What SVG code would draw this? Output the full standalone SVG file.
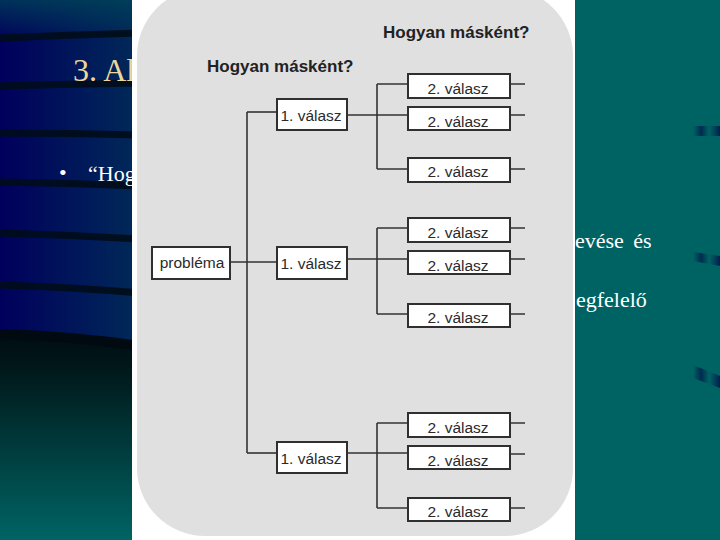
<svg xmlns="http://www.w3.org/2000/svg" width="720" height="540" viewBox="0 0 720 540">
<defs>
<linearGradient id="navy" x1="0" y1="0" x2="1" y2="0">
<stop offset="0" stop-color="#00005c"/>
<stop offset="1" stop-color="#002a58"/>
</linearGradient>
<linearGradient id="topfade" x1="0" y1="0" x2="0" y2="1">
<stop offset="0" stop-color="#004858" stop-opacity="0.7"/>
<stop offset="1" stop-color="#004858" stop-opacity="0"/>
</linearGradient>
<linearGradient id="lower" x1="0" y1="0" x2="0" y2="1">
<stop offset="0" stop-color="#000c12"/>
<stop offset="0.2" stop-color="#001a1c"/>
<stop offset="1" stop-color="#006464"/>
</linearGradient>
<linearGradient id="dash" x1="0" y1="0" x2="1" y2="0">
<stop offset="0" stop-color="#006363"/>
<stop offset="0.3" stop-color="#002a50"/>
<stop offset="0.6" stop-color="#006363"/>
<stop offset="1" stop-color="#002050"/>
</linearGradient>
<style>
.stripe{fill:none;stroke:#000c18;stroke-width:7;stroke-opacity:0.9}
.bg{font-family:"Liberation Serif","Times New Roman",serif}
.box{fill:#ffffff;stroke:#303030;stroke-width:2}
.lbl{font-family:"Liberation Sans",Arial,sans-serif;font-size:15.5px;fill:#2a2a2a;text-anchor:middle}
.ttl{font-family:"Liberation Sans",Arial,sans-serif;font-size:17px;font-weight:bold;fill:#222222}
.ln{fill:none;stroke:#333333;stroke-width:1.6}
</style>
</defs>
<!-- slide background -->
<rect x="0" y="0" width="720" height="540" fill="#006363"/>
<rect x="0" y="0" width="140" height="340" fill="url(#navy)"/>
<rect x="0" y="0" width="140" height="40" fill="url(#topfade)"/>
<path d="M0,332 Q70,334 140,345 L140,540 L0,540 Z" fill="url(#lower)"/>
<path class="stripe" d="M0,38 Q70,35 140,33"/>
<path class="stripe" d="M0,86 Q70,84 140,83"/>
<path class="stripe" d="M0,133 Q70,133 140,135"/>
<path class="stripe" d="M0,182 Q70,183 140,186"/>
<path class="stripe" d="M0,233 Q70,235 140,239"/>
<path class="stripe" d="M0,285 Q70,287 140,293"/>
<path d="M0,334 Q70,336 140,346" fill="none" stroke="#000a10" stroke-width="10"/>
<polygon points="693,126 720,126 720,136 693,136" fill="url(#dash)"/>
<polygon points="693,252 720,256 720,266 693,261" fill="url(#dash)"/>
<polygon points="693,365 720,376 720,388 693,378" fill="url(#dash)"/>
<text class="bg" x="73" y="81" font-size="32" fill="#ecd79c">3. Al</text>
<text class="bg" x="59" y="180" font-size="22" fill="#ffffff">•</text>
<text class="bg" x="88" y="181" font-size="22" fill="#ffffff">“Hog</text>
<text class="bg" x="575" y="248" font-size="22" fill="#ffffff" word-spacing="4">evése és</text>
<text class="bg" x="576" y="307" font-size="22" fill="#ffffff">egfelelő</text>
<!-- picture panel -->
<rect x="132" y="0" width="443" height="540" fill="#ffffff"/>
<rect x="137" y="-12" width="436" height="548" rx="68" ry="68" fill="#e0e0e0"/>
<text class="ttl" x="383" y="38">Hogyan másként?</text>
<text class="ttl" x="207" y="72">Hogyan másként?</text>
<g id="connectors">
<path class="ln" d="M230,262 H277"/>
<path class="ln" d="M247,112 V453"/>
<path class="ln" d="M247,112 H277"/>
<path class="ln" d="M247,453 H277"/>
<path class="ln" d="M347,115 H408 M377,84 V169 M377,84 H408 M377,169 H408 M510,84 H525 M510,115 H525 M510,169 H525"/>
<path class="ln" d="M347,259 H408 M377,228 V314 M377,228 H408 M377,314 H408 M510,228 H525 M510,259 H525 M510,314 H525"/>
<path class="ln" d="M347,453 H408 M377,423 V508 M377,423 H408 M377,508 H408 M510,423 H525 M510,454 H525 M510,508 H525"/>
</g>
<g id="problema"><rect class="box" x="152" y="247" width="78" height="32"/><text class="lbl" x="192" y="268">probléma</text></g>
<g id="v1a"><rect class="box" x="277" y="99" width="70" height="31"/><text class="lbl" x="311" y="121">1. válasz</text></g>
<g id="v1b"><rect class="box" x="277" y="247" width="70" height="32"/><text class="lbl" x="311" y="269">1. válasz</text></g>
<g id="v1c"><rect class="box" x="277" y="442" width="70" height="31"/><text class="lbl" x="311" y="464">1. válasz</text></g>
<g id="v2a1"><rect class="box" x="408" y="74" width="102" height="24"/><text class="lbl" x="458" y="94">2. válasz</text></g>
<g id="v2a2"><rect class="box" x="408" y="107" width="102" height="23"/><text class="lbl" x="458" y="126.5">2. válasz</text></g>
<g id="v2a3"><rect class="box" x="408" y="158" width="102" height="24"/><text class="lbl" x="458" y="177">2. válasz</text></g>
<g id="v2b1"><rect class="box" x="408" y="218" width="102" height="24"/><text class="lbl" x="458" y="238">2. válasz</text></g>
<g id="v2b2"><rect class="box" x="408" y="251" width="102" height="23"/><text class="lbl" x="458" y="270.5">2. válasz</text></g>
<g id="v2b3"><rect class="box" x="408" y="304" width="102" height="23"/><text class="lbl" x="458" y="323">2. válasz</text></g>
<g id="v2c1"><rect class="box" x="408" y="413" width="102" height="24"/><text class="lbl" x="458" y="433">2. válasz</text></g>
<g id="v2c2"><rect class="box" x="408" y="446" width="102" height="23"/><text class="lbl" x="458" y="465.5">2. válasz</text></g>
<g id="v2c3"><rect class="box" x="408" y="498" width="102" height="23"/><text class="lbl" x="458" y="517">2. válasz</text></g>
</svg>
